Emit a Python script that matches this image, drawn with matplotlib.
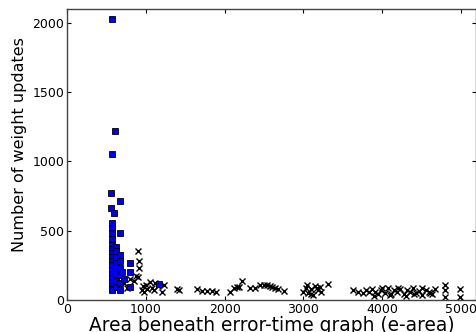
import matplotlib
matplotlib.use("Agg")
import matplotlib.pyplot as plt

# blue squares (e-area, weight updates)
blue_x = [567, 605, 567, 554, 667, 562, 592, 676,
          567, 567, 567, 567, 567, 567, 567, 567, 567, 567, 567, 567, 567, 567, 567, 567, 567,
          626, 626, 626, 626, 626, 626, 626, 626,
          667, 667, 667, 667, 667, 667,
          700, 720, 793, 793, 793, 1171]
blue_y = [2027, 1219, 1053, 772, 716, 661, 625, 486,
          555, 520, 480, 440, 400, 370, 340, 310, 280, 250, 220, 190, 160, 130, 100, 80, 72,
          385, 350, 310, 270, 230, 190, 140, 96,
          325, 280, 230, 180, 120, 72,
          200, 150, 265, 204, 96, 113]

# black crosses
cross_x = [898, 911, 911, 898, 720, 760, 800, 850, 870, 950, 960, 980, 1000, 1020, 1050,
           1080, 1100, 1120, 1150, 1200, 1230, 1400, 1420,
           1654, 1717, 1780, 1843, 1885, 2074, 2116, 2158, 2179, 2221,
           2326, 2389, 2452, 2494, 2536, 2570, 2599, 2641, 2683, 2758,
           3000, 3030, 3060, 3090, 3120, 3150, 3180, 3210, 3225, 3050, 3100, 3170,
           3312, 3627, 3690, 3753,
           3791, 3830, 3870, 3910, 3950, 3990, 4030, 4070, 4110, 4150, 4190, 4230,
           4270, 4310, 4350, 4390, 4430, 4470, 4510, 4550, 4590, 4630, 4672,
           3900, 4000, 4100, 4200, 4300, 4400, 4500, 4600,
           4802, 4802, 4802, 4991, 4991]
cross_y = [356, 281, 233, 164, 120, 90, 150, 140, 170, 70, 100, 60, 110, 80, 130,
           90, 70, 120, 100, 60, 110, 80, 70,
           77, 67, 67, 67, 60, 60, 84, 96, 96, 137,
           84, 90, 108, 110, 105, 100, 95, 90, 80, 67,
           60, 90, 50, 80, 36, 100, 70, 96, 60, 110, 45, 85,
           115, 72, 60, 50,
           70, 55, 80, 60, 40, 75, 50, 85, 45, 70, 60, 80,
           40, 70, 55, 85, 50, 65, 35, 75, 60, 40, 80,
           30, 90, 35, 90, 30, 40, 90, 50,
           20, 70, 110, 20, 80]

plt.rcParams['xtick.direction'] = 'in'
plt.rcParams['ytick.direction'] = 'in'

fig = plt.figure(figsize=(4.76, 3.32), dpi=100)
ax = fig.add_axes([0.1408, 0.0964, 0.8592, 0.8765])

ax.plot(cross_x, cross_y, 'x', color='black', markersize=5, markeredgewidth=1.0)
ax.plot(blue_x, blue_y, 's', markerfacecolor='#0000ee', markeredgecolor='black',
        markersize=4.5, markeredgewidth=0.6)

ax.set_xlim(0, 5190)
ax.set_ylim(0, 2100)
ax.set_xticks([0, 1000, 2000, 3000, 4000, 5000])
ax.set_yticks([0, 500, 1000, 1500, 2000])
ax.tick_params(top=True, right=True, labelsize=9, length=3, width=0.8, pad=2)
for s in ax.spines.values():
    s.set_color('#444444')
    s.set_linewidth(1.0)

ax.set_xlabel("Area beneath error-time graph (e-area)", fontsize=13.4, labelpad=0)
ax.set_ylabel("Number of weight updates", fontsize=11.5, va='center')
ax.yaxis.set_label_coords(-0.117, 0.533)

fig.savefig("out.png", dpi=100)
